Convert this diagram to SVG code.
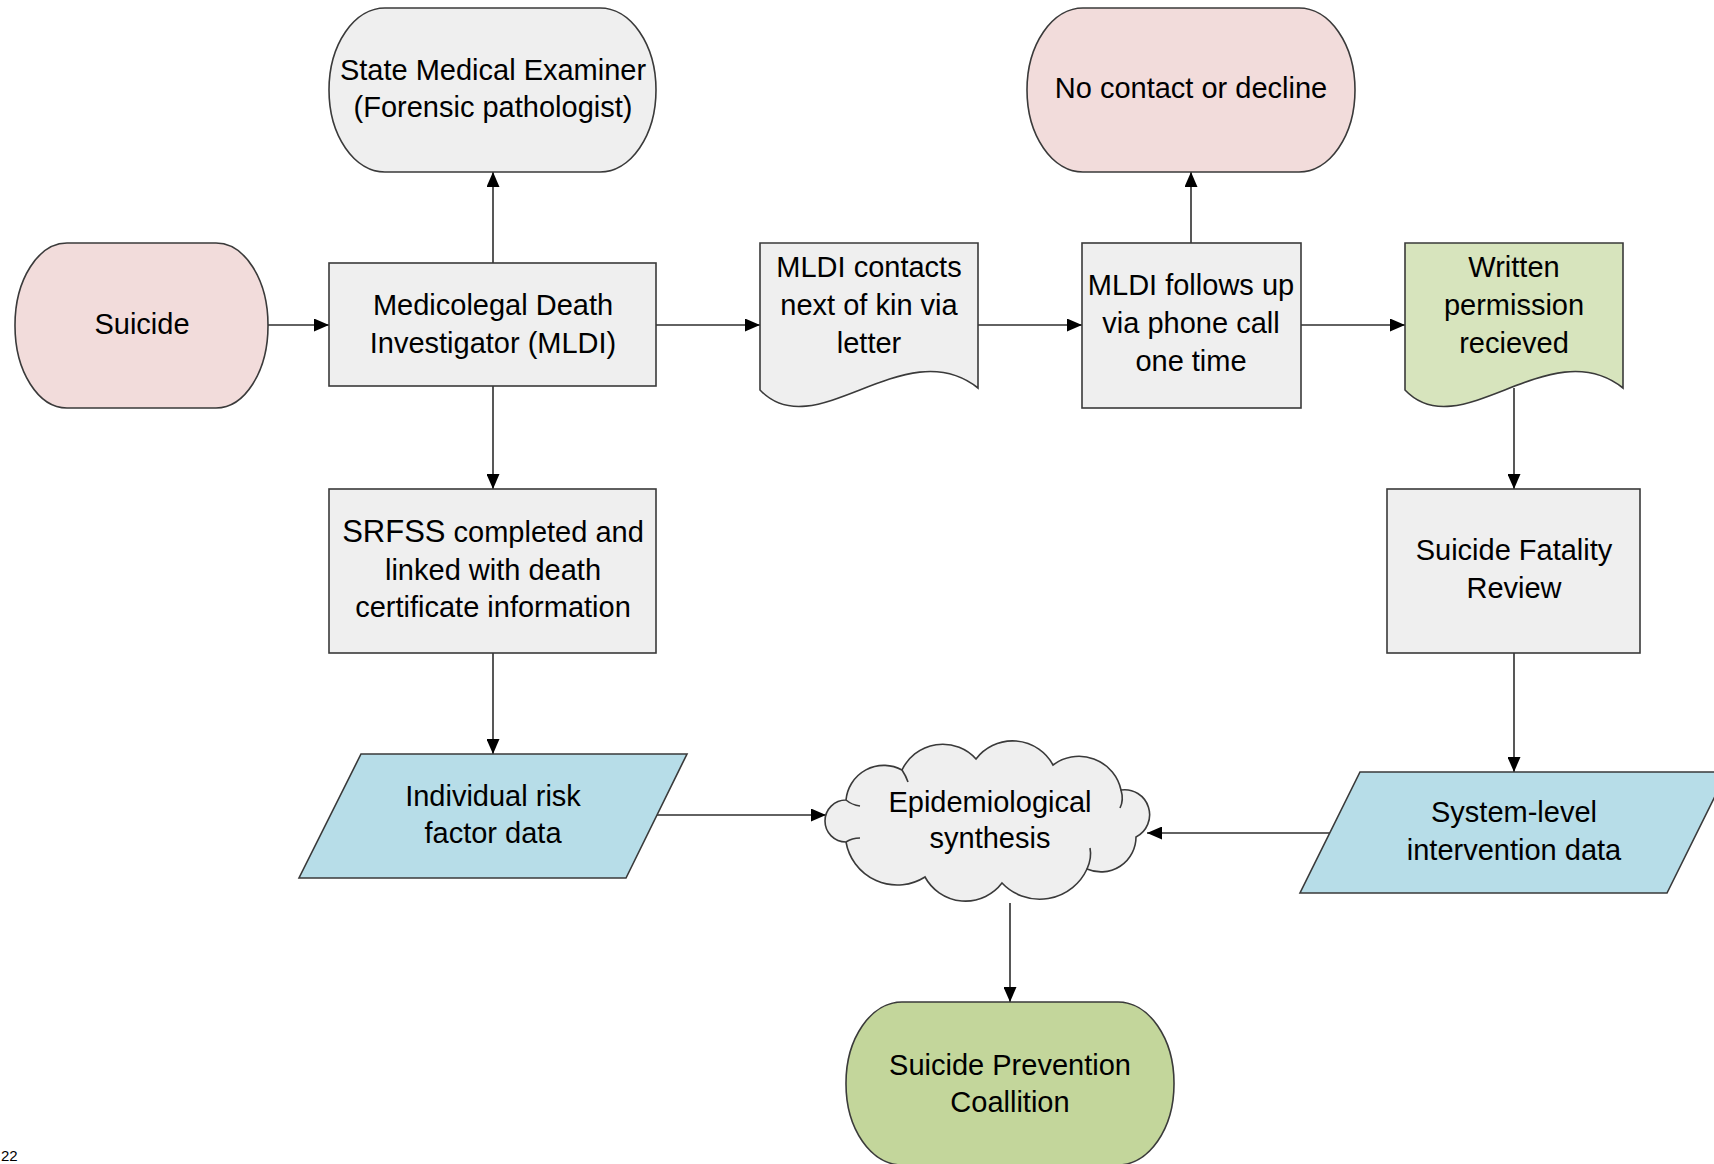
<svg xmlns="http://www.w3.org/2000/svg" width="1714" height="1164" viewBox="0 0 1714 1164">
<style>
.n{stroke:#3a3a3a;stroke-width:1.6}
.gray{fill:#efefef}
.pink{fill:#f2dcdb}
.green{fill:#d7e4bd}
.green2{fill:#c3d69b}
.blue{fill:#b7dde8}
.t{font-family:"Liberation Sans",Arial,sans-serif;font-size:29px;fill:#000;text-anchor:middle}
.c{stroke:#2e2e2e;stroke-width:1.6;fill:none;marker-end:url(#arr)}
.curl{stroke:#3a3a3a;stroke-width:1.6;fill:none}
</style>
<defs>
<marker id="arr" markerWidth="15" markerHeight="13" refX="15" refY="6.5" orient="auto" markerUnits="userSpaceOnUse">
<path d="M0,0 L15,6.5 L0,13 z" fill="#000"/>
</marker>
</defs>
<rect width="1714" height="1164" fill="#fff"/>

<g id="connectors">
<path class="c" d="M268,325 H329"/>
<path class="c" d="M493,263 V172"/>
<path class="c" d="M493,386 V489"/>
<path class="c" d="M656,325 H760"/>
<path class="c" d="M978,325 H1082"/>
<path class="c" d="M1191,243 V172"/>
<path class="c" d="M1301,325 H1405"/>
<path class="c" d="M1514,388 V489"/>
<path class="c" d="M493,653 V754"/>
<path class="c" d="M1514,653 V772"/>
<path class="c" d="M657,815 H826"/>
<path class="c" d="M1330,833 H1147"/>
<path class="c" d="M1010,903 V1002"/>
</g>

<g id="state-medical-examiner">
<rect class="n gray" x="329" y="8" width="327" height="164" rx="56" ry="82"/>
<text class="t" x="493" y="80">State Medical Examiner</text>
<text class="t" x="493" y="117">(Forensic pathologist)</text>
</g>

<g id="no-contact">
<rect class="n pink" x="1027" y="8" width="328" height="164" rx="56" ry="82"/>
<text class="t" x="1191" y="98">No contact or decline</text>
</g>

<g id="suicide">
<rect class="n pink" x="15" y="243" width="253" height="165" rx="52" ry="82"/>
<text class="t" x="142" y="334">Suicide</text>
</g>

<g id="mldi">
<rect class="n gray" x="329" y="263" width="327" height="123"/>
<text class="t" x="493" y="315">Medicolegal Death</text>
<text class="t" x="493" y="353">Investigator (MLDI)</text>
</g>

<g id="mldi-contacts">
<path class="n gray" d="M760,243 H978 V388 C905,330 815,448 760,390 Z"/>
<text class="t" x="869" y="277">MLDI contacts</text>
<text class="t" x="869" y="315">next of kin via</text>
<text class="t" x="869" y="353">letter</text>
</g>

<g id="mldi-follows-up">
<rect class="n gray" x="1082" y="243" width="219" height="165"/>
<text class="t" x="1191" y="295">MLDI follows up</text>
<text class="t" x="1191" y="333">via phone call</text>
<text class="t" x="1191" y="371">one time</text>
</g>

<g id="written-permission">
<path class="n green" d="M1405,243 H1623 V388 C1550,330 1460,448 1405,390 Z"/>
<text class="t" x="1514" y="277">Written</text>
<text class="t" x="1514" y="315">permission</text>
<text class="t" x="1514" y="353">recieved</text>
</g>

<g id="srfss">
<rect class="n gray" x="329" y="489" width="327" height="164"/>
<text class="t" x="493" y="542"><tspan font-size="31">SRFSS</tspan> completed and</text>
<text class="t" x="493" y="580">linked with death</text>
<text class="t" x="493" y="617">certificate information</text>
</g>

<g id="suicide-fatality-review">
<rect class="n gray" x="1387" y="489" width="253" height="164"/>
<text class="t" x="1514" y="560">Suicide Fatality</text>
<text class="t" x="1514" y="598">Review</text>
</g>

<g id="individual-risk">
<polygon class="n blue" points="361,754 687,754 626,878 299,878"/>
<text class="t" x="493" y="806">Individual risk</text>
<text class="t" x="493" y="843">factor data</text>
</g>

<g id="epidemiological-synthesis">
<path class="n gray" d="M846,842 A21,21 0 0 1 846,800 A38,38 0 0 1 902,770 A45,45 0 0 1 976,759 A46,46 0 0 1 1053,765 A43,43 0 0 1 1121,790 A25,25 0 0 1 1136,837 A35,35 0 0 1 1087,869 A52,52 0 0 1 1002,883 A46,46 0 0 1 925,877 A52,52 0 0 1 846,842 Z"/>
<path class="curl" d="M846,800 Q852,805 860,806"/>
<path class="curl" d="M846,842 Q852,838 860,838"/>
<path class="curl" d="M1121,790 Q1124,800 1120,808"/>
<path class="curl" d="M1087,869 Q1092,858 1090,848"/>
<path class="curl" d="M902,770 Q906,776 908,782"/>
<text class="t" x="990" y="812">Epidemiological</text>
<text class="t" x="990" y="848">synthesis</text>
</g>

<g id="system-level">
<polygon class="n blue" points="1360,772 1727,772 1667,893 1300,893"/>
<text class="t" x="1514" y="822">System-level</text>
<text class="t" x="1514" y="860">intervention data</text>
</g>

<g id="coalition">
<rect class="n green2" x="846" y="1002" width="328" height="163" rx="56" ry="81"/>
<text class="t" x="1010" y="1075">Suicide Prevention</text>
<text class="t" x="1010" y="1112">Coallition</text>
</g>

<text x="1" y="1161" font-family="Liberation Sans, Arial, sans-serif" font-size="15" fill="#000">22</text>
</svg>
